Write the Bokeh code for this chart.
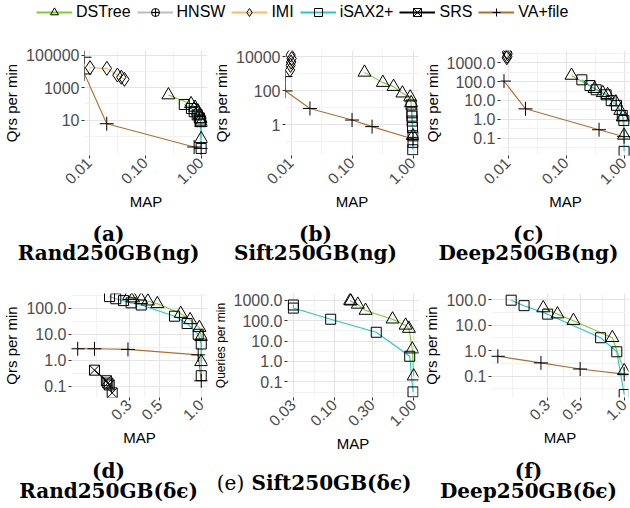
import math
from bokeh.plotting import figure
from bokeh.models import Range1d, FixedTicker, PrintfTickFormatter, Legend, LegendItem, Label
from bokeh.layouts import column, row
from bokeh.embed import file_html
from bokeh.resources import INLINE

# ---------------- series styling ----------------
SERIES = ["DSTree", "HNSW", "IMI", "iSAX2+", "SRS", "VA+file"]
COLORS = {"DSTree": "#7BCF2E", "HNSW": "#BDBDBD", "IMI": "#FDBA63",
          "iSAX2+": "#22C7D1", "SRS": "#000000", "VA+file": "#B26E2E"}
MARKERS = {"DSTree": "triangle", "HNSW": "circle_cross", "IMI": "diamond",
           "iSAX2+": "square", "SRS": "square_x", "VA+file": "cross"}
SIZES = {"DSTree": 13, "HNSW": 11, "IMI": 14, "iSAX2+": 10, "SRS": 10, "VA+file": 14}

# ---------------- data (MAP, queries per minute) ----------------
# (a) Rand250GB(ng)
a_dstree_x = [0.26, 0.66, 0.78, 0.88, 0.94, 0.98, 1.0, 1.0]
a_dstree_y = [350, 100, 60, 35, 20, 12, 7, 0.7]
a_isax_x = [0.50, 0.67, 0.75, 0.85, 0.93, 0.96, 0.98, 1.0]
a_isax_y = [92, 52, 33, 21, 13.6, 10, 8, 0.18]
a_imi_x = [0.0103, 0.0206, 0.0318, 0.0373, 0.0425]
a_imi_y = [16900, 15500, 6000, 4400, 3250]
a_va_x = [0.0082, 0.0082, 0.0205, 0.75, 1.0]
a_va_y = [75000, 7000, 6.0, 0.22, 0.18]

# (b) Sift250GB(ng)
b_dstree_x = [0.16, 0.32, 0.48, 0.67, 0.90, 0.93, 1.0]
b_dstree_y = [1240, 310, 180, 74, 43, 20, 0.23]
b_isax_x = [0.93, 0.96, 0.96, 0.97, 0.98, 1.0, 1.0, 0.99]
b_isax_y = [15, 5.2, 3.3, 1.7, 0.7, 0.23, 0.095, 0.035]
b_imi_x = [0.0098, 0.0102, 0.0100, 0.0098, 0.0096]
b_imi_y = [13000, 8000, 5000, 3200, 1700]
b_va_x = [0.0081, 0.0081, 0.0204, 0.10, 0.213, 1.0]
b_va_y = [700, 100, 9.3, 1.95, 0.8, 0.15]

# (c) Deep250GB(ng)
c_dstree_x = [0.124, 0.31, 0.43, 0.52, 0.72, 0.86, 0.95, 1.0]
c_dstree_y = [212, 42, 25.5, 20, 8.2, 2.9, 1.3, 0.14]
c_isax_x = [0.187, 0.258, 0.33, 0.49, 0.60, 0.74, 0.93, 0.99, 1.0]
c_isax_y = [125, 62, 37, 20, 9.8, 5.5, 1.6, 0.87, 0.02]
c_imi_x = [0.0096, 0.0098, 0.0097, 0.0095]
c_imi_y = [3700, 3000, 2170, 1840]
c_va_x = [0.0085, 0.020, 0.37, 1.0]
c_va_y = [107, 3.6, 0.28, 0.12]

# (d) Rand250GB(de)
d_dstree_x = [0.30, 0.32, 0.367, 0.41, 0.48, 0.71, 0.83, 0.97, 1.0, 1.0]
d_dstree_y = [310, 250, 215, 190, 150, 63, 36, 18, 8, 0.86]
d_isax_x = [0.216, 0.24, 0.273, 0.31, 0.367, 0.64, 0.79, 0.95, 1.0, 1.0]
d_isax_y = [286, 236, 200, 164, 135, 50, 26, 10, 4.2, 0.25]
d_va_x = [0.127, 0.168, 0.294, 0.95, 1.0]
d_va_y = [2.75, 2.75, 2.6, 1.6, 0.16]
d_srs_x = [0.168, 0.205, 0.21, 0.215, 0.226]
d_srs_y = [0.41, 0.16, 0.13, 0.11, 0.054]

# (e) Sift250GB(de)
e_dstree_x = [0.157, 0.16, 0.196, 0.246, 0.54, 0.79, 0.87, 0.96, 1.0]
e_dstree_y = [970, 900, 630, 315, 118, 59, 41, 4, 0.19]
e_isax_x = [0.03, 0.03, 0.089, 0.336, 0.89, 0.98]
e_isax_y = [590, 415, 118, 27, 1.8, 0.032]

# (f) Deep250GB(de)
f_dstree_x = [0.28, 0.35, 0.45, 0.83, 1.0]
f_dstree_y = [47, 27, 15, 3.2, 0.16]
f_isax_x = [0.169, 0.207, 0.30, 0.69, 0.89, 1.0]
f_isax_y = [95, 58, 27, 3.2, 0.9, 0.019]
f_va_x = [0.137, 0.27, 0.50, 1.0]
f_va_y = [0.6, 0.33, 0.19, 0.12]

# tick breaks
x_dec = [0.01, 0.1, 1.0]
x_dec_minor = [0.00316, 0.0316, 0.316]
x_lin = [0.1, 0.3, 0.5, 1.0]
x_lin_minor = [0.173, 0.387, 0.707]
x_e = [0.03, 0.1, 0.3, 1.0]
x_e_minor = [0.0548, 0.173, 0.548]

# sub-figure captions
CAP_LETTERS_1 = ["(a)", "(b)", "(c)"]
CAP_NAMES_1 = ["Rand250GB(ng)", "Sift250GB(ng)", "Deep250GB(ng)"]
CAP_LETTERS_2 = ["(d)", "(e)", "(f)"]
CAP_NAMES_2 = ["Rand250GB(δϵ)", "Sift250GB(δϵ)", "Deep250GB(δϵ)"]

TICK_FONT = "Liberation Sans"
CAP_FONT = "DejaVu Serif"


def make_panel(h, xr, yr, xt, xm, xfmt, yt, ym, yfmt, ylabel, borders,
               series, ylabel_size="15px"):
    left, right, top, bottom = borders
    p = figure(width=210, height=h, x_axis_type="log", y_axis_type="log",
               x_range=Range1d(*xr), y_range=Range1d(*yr),
               output_backend="svg", toolbar_location=None,
               min_border_left=left, min_border_right=right,
               min_border_top=top, min_border_bottom=bottom)
    p.outline_line_color = None
    p.xaxis.ticker = FixedTicker(ticks=xt, minor_ticks=xm)
    p.yaxis.ticker = FixedTicker(ticks=yt, minor_ticks=ym)
    p.xaxis.formatter = PrintfTickFormatter(format=xfmt)
    p.yaxis.formatter = PrintfTickFormatter(format=yfmt)
    for ax in (p.xaxis, p.yaxis):
        ax.axis_line_color = None
        ax.major_tick_in = 0
        ax.major_tick_out = 3
        ax.major_tick_line_color = "#333333"
        ax.minor_tick_line_color = None
        ax.major_label_text_font = TICK_FONT
        ax.major_label_text_color = "#4D4D4D"
        ax.major_label_standoff = 1
        ax.axis_label_text_font = TICK_FONT
        ax.axis_label_text_font_style = "normal"
        ax.axis_label_text_color = "black"
        ax.axis_label_standoff = 1
    p.yaxis.major_label_text_font_size = "16px"
    p.xaxis.major_label_text_font_size = "15.5px"
    p.xaxis.major_label_orientation = math.pi / 4
    p.xaxis.axis_label = "MAP"
    p.xaxis.axis_label_text_font_size = "15px"
    p.yaxis.axis_label = ylabel
    p.yaxis.axis_label_text_font_size = ylabel_size
    p.yaxis.axis_label_standoff = 3
    for g in (p.xgrid, p.ygrid):
        g.grid_line_color = "#E4E4E4"
        g.grid_line_width = 1.2
        g.minor_grid_line_color = "#EFEFEF"
        g.minor_grid_line_width = 0.8

    for name, xs, ys in series:
        p.line(xs, ys, line_color=COLORS[name], line_width=1.1)
    for name, xs, ys in series:
        p.scatter(xs, ys, marker=MARKERS[name], size=SIZES[name],
                  fill_color=None, line_color="black", line_width=1)
    return p


def cap_label(text, sx, sy, bold=True):
    return Label(x=sx, y=sy, x_units="screen", y_units="screen", text=text,
                 text_align="center", text_baseline="middle",
                 text_font=CAP_FONT, text_font_style="bold" if bold else "normal",
                 text_font_size="20px", text_color="black")


def caption_strip(h):
    c = figure(width=630, height=h, toolbar_location=None, output_backend="svg",
               x_range=Range1d(0, 1), y_range=Range1d(0, 1),
               x_axis_location=None, y_axis_location=None, title=None, min_border=0)
    c.outline_line_color = None
    c.grid.visible = False
    return c


pa = make_panel(187, (0.0082, 1.3), (0.066, 195000), x_dec, x_dec_minor, "%.2f",
                [10, 1000, 100000], [1, 100, 10000], "%d", "Qrs per min",
                (78, 3, 17, 59),
                [("VA+file", a_va_x, a_va_y), ("IMI", a_imi_x, a_imi_y),
                 ("DSTree", a_dstree_x, a_dstree_y), ("iSAX2+", a_isax_x, a_isax_y)])
pb = make_panel(187, (0.0081, 1.23), (0.016, 24000), x_dec, x_dec_minor, "%.2f",
                [1, 100, 10000], [0.1, 10, 1000], "%d", "Qrs per min",
                (72, 2, 20, 60),
                [("VA+file", b_va_x, b_va_y), ("IMI", b_imi_x, b_imi_y),
                 ("DSTree", b_dstree_x, b_dstree_y), ("iSAX2+", b_isax_x, b_isax_y)])
pc = make_panel(187, (0.0074, 1.29), (0.012, 4500), x_dec, x_dec_minor, "%.2f",
                [0.1, 1, 10, 100, 1000], [0.0316, 0.316, 3.16, 31.6, 316, 3162], "%.1f",
                "Qrs per min", (77, 0, 20, 62),
                [("VA+file", c_va_x, c_va_y), ("IMI", c_imi_x, c_imi_y),
                 ("DSTree", c_dstree_x, c_dstree_y), ("iSAX2+", c_isax_x, c_isax_y)])
pd_ = make_panel(192, (0.1145, 1.11), (0.036, 377), x_lin, x_lin_minor, "%.1f",
                 [0.1, 1, 10, 100], [0.0316, 0.316, 3.16, 31.6, 316], "%.1f",
                 "Qrs per min", (63, 3, 21, 60),
                 [("VA+file", d_va_x, d_va_y), ("SRS", d_srs_x, d_srs_y),
                  ("DSTree", d_dstree_x, d_dstree_y), ("iSAX2+", d_isax_x, d_isax_y)])
pe = make_panel(192, (0.0253, 1.15), (0.017, 2160), x_e, x_e_minor, "%.2f",
                [0.1, 1, 10, 100, 1000], [0.0316, 0.316, 3.16, 31.6, 316], "%.1f",
                "Queries per min", (74, 2, 27, 53),
                [("DSTree", e_dstree_x, e_dstree_y), ("iSAX2+", e_isax_x, e_isax_y)],
                ylabel_size="12px")
pf = make_panel(192, (0.124, 1.07), (0.0145, 174), x_lin, x_lin_minor, "%.1f",
                [0.1, 1, 10, 100], [0.0316, 0.316, 3.16, 31.6], "%.1f",
                "Qrs per min", (68, 2, 17, 61),
                [("VA+file", f_va_x, f_va_y),
                 ("DSTree", f_dstree_x, f_dstree_y), ("iSAX2+", f_isax_x, f_isax_y)])

# caption strips (screen positions measured from the strip's bottom-left corner)
COL_CENTERS = [108, 315, 528]
cap1 = caption_strip(49)
for i in range(3):
    cap1.add_layout(cap_label(CAP_LETTERS_1[i], COL_CENTERS[i], 33))
    cap1.add_layout(cap_label(CAP_NAMES_1[i], COL_CENTERS[i], 14))
cap2 = caption_strip(50)
cap2.add_layout(cap_label(CAP_LETTERS_2[0], COL_CENTERS[0], 38))
cap2.add_layout(cap_label(CAP_NAMES_2[0], COL_CENTERS[0], 18))
cap2.add_layout(cap_label(CAP_LETTERS_2[1], 230, 26, bold=False))
cap2.add_layout(cap_label(CAP_NAMES_2[1], 331, 26))
cap2.add_layout(cap_label(CAP_LETTERS_2[2], COL_CENTERS[2], 38))
cap2.add_layout(cap_label(CAP_NAMES_2[2], COL_CENTERS[2], 18))

# ---------------- legend strip ----------------
leg = figure(width=630, height=30, toolbar_location=None, output_backend="svg",
             x_range=Range1d(0, 1), y_range=Range1d(0, 1),
             x_axis_location=None, y_axis_location=None, min_border=0)
leg.outline_line_color = None
leg.grid.visible = False
items = []
for name in SERIES:
    # legend proxies: placed outside the visible range, only the legend shows them
    r1 = leg.line(x=[-5, -4], y=[-5, -4], line_color=COLORS[name], line_width=2)
    r2 = leg.scatter(x=[-5], y=[-5], marker=MARKERS[name], size=SIZES[name] + 2,
                     fill_color=None, line_color="black", line_width=1)
    items.append(LegendItem(label=name, renderers=[r1, r2]))
legend = Legend(items=items, orientation="horizontal", location=(36, 8),
                glyph_width=36, glyph_height=20, label_standoff=4, spacing=6,
                padding=0, margin=0, border_line_color=None,
                background_fill_alpha=0, label_text_font=TICK_FONT,
                label_text_font_size="16px", label_text_color="black")
leg.add_layout(legend, "center")

layout = column(leg, row(pa, pb, pc), cap1, row(pd_, pe, pf), cap2)
open("out.html", "w").write(file_html(layout, INLINE))
